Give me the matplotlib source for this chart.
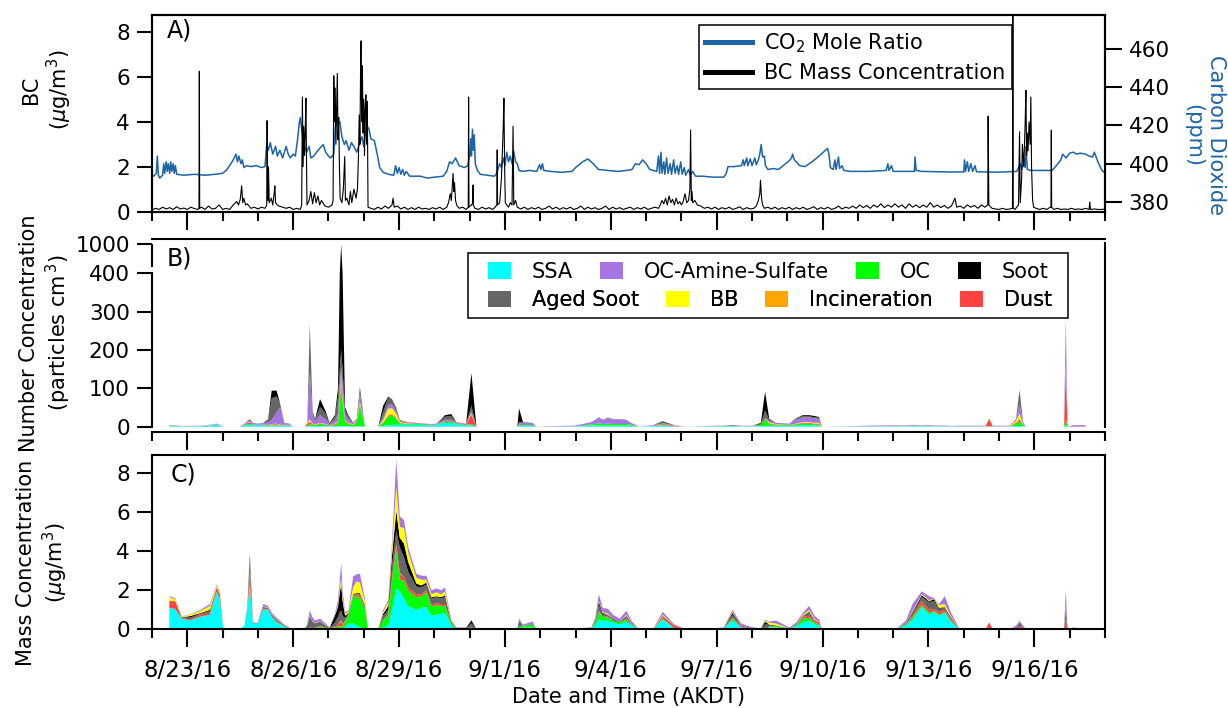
import numpy as np
import matplotlib
matplotlib.use("Agg")
import matplotlib.pyplot as plt
import matplotlib.dates as mdates
from matplotlib.patches import Patch, Rectangle
from matplotlib.lines import Line2D
from matplotlib.ticker import FuncFormatter
from datetime import datetime

plt.rcParams['font.family'] = 'DejaVu Sans'
plt.rcParams['font.size'] = 15

# ---------------- A) BC and CO2 (days since 8/22/16 00:00, value) ----------------
co2_points = [
    (0.00, 394), (0.05, 393.5), (0.12, 395), (0.15, 404), (0.18, 394), (0.22, 392.5), (0.30, 394),
    (0.33, 400), (0.36, 395), (0.40, 401), (0.43, 396), (0.46, 400), (0.50, 395), (0.53, 401),
    (0.56, 396), (0.60, 400), (0.63, 395), (0.66, 399), (0.70, 394.5), (0.90, 394), (1.20, 394.5),
    (1.50, 394), (1.80, 394.5), (2.00, 395), (2.10, 396.5), (2.20, 399), (2.30, 402), (2.38, 405),
    (2.42, 401), (2.46, 404), (2.52, 400), (2.56, 402), (2.60, 398), (2.68, 399), (2.80, 398.5),
    (2.95, 399), (3.10, 398), (3.20, 398.5), (3.25, 410), (3.30, 407), (3.35, 411), (3.42, 405),
    (3.50, 409), (3.55, 404), (3.62, 407), (3.70, 403), (3.80, 409), (3.86, 405), (3.92, 403),
    (4.00, 405), (4.06, 404), (4.12, 412), (4.17, 421), (4.20, 424), (4.24, 418), (4.30, 410),
    (4.38, 406), (4.45, 409), (4.50, 403), (4.58, 404), (4.66, 406), (4.75, 408), (4.85, 410),
    (4.92, 406), (5.00, 404), (5.06, 403), (5.15, 405), (5.22, 428), (5.26, 420), (5.32, 422),
    (5.38, 414), (5.45, 410), (5.50, 412), (5.58, 407), (5.65, 411), (5.72, 409), (5.80, 406),
    (5.87, 410), (5.95, 414), (6.00, 409), (6.08, 420), (6.15, 418), (6.20, 413), (6.30, 412),
    (6.38, 405), (6.45, 398), (6.55, 395.5), (6.70, 394.5), (6.85, 394), (6.90, 399), (6.95, 395),
    (7.00, 398), (7.05, 394.5), (7.10, 397), (7.15, 394), (7.20, 396), (7.30, 393.5), (7.60, 393.5),
    (7.80, 392.5), (8.00, 393), (8.25, 393.5), (8.35, 396), (8.43, 401), (8.50, 400), (8.60, 403),
    (8.70, 399), (8.85, 398), (8.95, 399), (9.00, 405), (9.03, 413), (9.05, 404), (9.08, 418),
    (9.10, 407), (9.13, 415), (9.16, 400), (9.22, 396.5), (9.30, 394.5), (9.50, 394), (9.70, 393.5),
    (9.75, 394.5), (9.80, 397), (9.85, 400), (9.90, 398), (9.95, 403), (10.00, 399), (10.05, 406),
    (10.10, 401), (10.15, 404), (10.20, 400), (10.25, 406.5), (10.30, 401), (10.35, 400),
    (10.40, 396.5), (10.50, 396), (10.70, 396.5), (10.90, 396), (10.98, 399.5), (11.02, 397),
    (11.06, 400), (11.10, 396.5), (11.30, 396), (11.60, 395.5), (11.90, 396), (12.00, 398),
    (12.20, 401), (12.35, 402.5), (12.50, 400), (12.65, 397), (12.90, 396.5), (13.20, 396),
    (13.45, 396.5), (13.60, 397), (13.70, 400), (13.80, 399.5), (13.90, 402), (14.00, 400),
    (14.10, 397), (14.30, 396), (14.35, 404), (14.38, 395), (14.42, 406), (14.45, 395), (14.50, 401),
    (14.53, 394.5), (14.58, 403), (14.62, 395), (14.68, 400), (14.72, 394.5), (14.78, 402),
    (14.82, 395), (14.88, 399), (14.92, 394.5), (14.98, 401), (15.02, 394.5), (15.08, 398),
    (15.12, 394), (15.20, 397), (15.25, 394), (15.32, 396), (15.40, 393.5), (15.60, 393.5),
    (15.90, 393), (16.20, 393), (16.27, 395), (16.32, 398.5), (16.50, 398.5), (16.70, 399),
    (16.75, 402), (16.78, 399), (16.85, 403), (16.88, 399), (16.95, 402.5), (17.00, 399),
    (17.08, 403), (17.12, 399.5), (17.18, 402), (17.22, 405), (17.26, 410), (17.30, 403.5),
    (17.35, 404), (17.38, 399), (17.45, 397), (17.60, 397.5), (17.75, 397), (17.85, 398.5),
    (17.95, 400), (18.05, 401.5), (18.12, 403), (18.15, 405), (18.20, 402), (18.35, 399),
    (18.50, 398.5), (18.70, 401), (18.90, 404), (19.05, 406.5), (19.14, 408), (19.18, 405),
    (19.22, 398), (19.30, 397), (19.35, 402), (19.38, 397), (19.45, 403.5), (19.48, 397.5),
    (19.55, 399), (19.60, 396.5), (19.80, 396), (20.30, 396), (20.80, 396.5), (20.85, 400),
    (20.88, 396.5), (20.95, 399), (21.00, 396), (21.60, 396), (21.62, 403.5), (21.65, 396.5),
    (21.80, 396), (22.60, 395.7), (23.00, 395.7), (23.02, 402), (23.05, 396), (23.10, 401),
    (23.14, 396), (23.20, 400), (23.25, 396), (23.32, 399), (23.36, 395.8), (24.00, 395.6),
    (24.50, 396), (24.60, 400), (24.64, 397), (24.70, 403), (24.74, 398), (24.76, 409),
    (24.80, 397), (24.90, 396.5), (25.50, 396.5), (25.60, 398.5), (25.75, 402), (25.80, 405),
    (25.90, 403), (26.00, 405.5), (26.10, 406), (26.20, 405), (26.30, 405.5), (26.45, 405),
    (26.55, 404), (26.65, 403.5), (26.70, 406), (26.80, 401), (26.90, 397), (27.00, 395),
]

bc_points = [
    (0.00, 0.08), (0.10, 0.15), (0.20, 0.10), (0.30, 0.20), (0.40, 0.12), (0.50, 0.18), (0.60, 0.10),
    (0.70, 0.22), (0.80, 0.12), (0.90, 0.16), (1.00, 0.10), (1.10, 0.20), (1.20, 0.14), (1.30, 0.10),
    (1.33, 0.15), (1.34, 6.25), (1.35, 0.15),
    (1.40, 0.20), (1.50, 0.10), (1.60, 0.25), (1.70, 0.12), (1.80, 0.15), (1.90, 0.30), (2.00, 0.10),
    (2.10, 0.15), (2.20, 0.10), (2.30, 0.30), (2.40, 0.45), (2.45, 0.30), (2.50, 0.55), (2.54, 1.15),
    (2.57, 0.40), (2.60, 0.60), (2.65, 0.30), (2.70, 0.35), (2.80, 0.15), (2.90, 0.20), (3.00, 0.12),
    (3.10, 0.20), (3.20, 0.15),
    (3.25, 0.30), (3.26, 4.05), (3.28, 0.50), (3.30, 2.00), (3.32, 0.40), (3.38, 0.60), (3.42, 0.30),
    (3.46, 0.80), (3.48, 1.15), (3.50, 0.40), (3.55, 0.30), (3.60, 0.25), (3.70, 0.20), (3.80, 0.15),
    (3.90, 0.20), (4.00, 0.10), (4.10, 0.15), (4.20, 0.10),
    (4.24, 0.30), (4.26, 5.10), (4.28, 2.00), (4.30, 3.80), (4.32, 2.50), (4.34, 3.50), (4.36, 5.05),
    (4.38, 2.00), (4.39, 0.30), (4.45, 0.50), (4.50, 0.90), (4.55, 0.35), (4.60, 0.85), (4.65, 0.40),
    (4.70, 0.70), (4.75, 0.30), (4.80, 0.50), (4.90, 0.25), (5.00, 0.20), (5.10, 0.30),
    (5.13, 0.50), (5.15, 6.05), (5.17, 4.00), (5.19, 5.50), (5.21, 3.00), (5.23, 4.60), (5.25, 6.15),
    (5.27, 3.20), (5.29, 4.20), (5.31, 2.00), (5.33, 0.60), (5.38, 0.40), (5.42, 1.00), (5.46, 2.45),
    (5.48, 0.50), (5.52, 0.60), (5.58, 0.30), (5.62, 0.90), (5.66, 0.40), (5.72, 1.00), (5.78, 0.60),
    (5.82, 1.00), (5.85, 2.50), (5.87, 4.30), (5.89, 3.00), (5.91, 6.50), (5.92, 7.60), (5.94, 4.00),
    (5.96, 6.50), (5.98, 3.50), (6.00, 5.00), (6.02, 2.50), (6.04, 4.60), (6.06, 5.20), (6.08, 3.00),
    (6.10, 4.90), (6.12, 0.20),
    (6.20, 0.15), (6.30, 0.10), (6.40, 0.20), (6.50, 0.12), (6.60, 0.25), (6.70, 0.15), (6.80, 0.30),
    (6.83, 0.60), (6.86, 0.20), (6.95, 0.25), (7.05, 0.12), (7.15, 0.20), (7.25, 0.10), (7.35, 0.18),
    (7.45, 0.10), (7.55, 0.20), (7.65, 0.12), (7.75, 0.15), (7.85, 0.10), (7.95, 0.18), (8.05, 0.12),
    (8.15, 0.20), (8.25, 0.10), (8.35, 0.20),
    (8.40, 0.40), (8.45, 0.80), (8.48, 0.50), (8.51, 1.20), (8.53, 1.70), (8.55, 0.90), (8.57, 1.30),
    (8.60, 0.50), (8.63, 0.30), (8.70, 0.15), (8.80, 0.20), (8.90, 0.10),
    (8.96, 0.20), (8.97, 5.10), (8.98, 0.20), (9.05, 0.30), (9.09, 0.40), (9.095, 1.19), (9.10, 0.30),
    (9.15, 0.15), (9.25, 0.10), (9.35, 0.20), (9.45, 0.12), (9.55, 0.18), (9.65, 0.10), (9.72, 0.20),
    (9.77, 0.30), (9.78, 2.75), (9.79, 0.30), (9.85, 0.40), (9.90, 1.50), (9.93, 2.80), (9.95, 3.70),
    (9.97, 5.05), (9.99, 2.00), (10.01, 0.40), (10.05, 0.30), (10.10, 0.20), (10.15, 0.40),
    (10.20, 0.30), (10.23, 3.80), (10.25, 0.30), (10.30, 0.50), (10.35, 0.20),
    (10.45, 0.12), (10.55, 0.20), (10.65, 0.10), (10.75, 0.18), (10.85, 0.12), (10.95, 0.20),
    (11.05, 0.10), (11.15, 0.15), (11.25, 0.25), (11.35, 0.12), (11.45, 0.20), (11.55, 0.10),
    (11.65, 0.18), (11.75, 0.12), (11.85, 0.20), (11.95, 0.10), (12.05, 0.15), (12.15, 0.25),
    (12.25, 0.10), (12.35, 0.20), (12.45, 0.12), (12.55, 0.18), (12.65, 0.10), (12.75, 0.15),
    (12.85, 0.25), (12.95, 0.10), (13.05, 0.20), (13.15, 0.12), (13.25, 0.18), (13.35, 0.10),
    (13.45, 0.15), (13.55, 0.20), (13.65, 0.10), (13.75, 0.18), (13.85, 0.12), (13.95, 0.20),
    (14.05, 0.10), (14.15, 0.15), (14.25, 0.20), (14.35, 0.15),
    (14.40, 0.30), (14.45, 0.50), (14.50, 0.35), (14.55, 0.60), (14.60, 0.30), (14.65, 0.70),
    (14.70, 0.40), (14.75, 0.55), (14.80, 0.30), (14.85, 0.60), (14.90, 0.35), (14.95, 0.45),
    (15.00, 0.30), (15.05, 0.45), (15.10, 0.80), (15.15, 0.40), (15.20, 0.50), (15.24, 1.00),
    (15.26, 3.63), (15.28, 0.50), (15.30, 0.90), (15.32, 0.40), (15.38, 0.50), (15.45, 0.30),
    (15.55, 0.25), (15.65, 0.15), (15.75, 0.20),
    (15.85, 0.12), (15.95, 0.20), (16.05, 0.10), (16.15, 0.18), (16.25, 0.12), (16.35, 0.20),
    (16.45, 0.10), (16.55, 0.15), (16.65, 0.22), (16.75, 0.10), (16.85, 0.18), (16.95, 0.12),
    (17.05, 0.15), (17.12, 0.25), (17.18, 0.50), (17.22, 0.80), (17.24, 1.40), (17.27, 0.60),
    (17.30, 0.30), (17.35, 0.15), (17.45, 0.20), (17.55, 0.12), (17.65, 0.20), (17.75, 0.10),
    (17.85, 0.18), (17.95, 0.12), (18.05, 0.20), (18.15, 0.10),
    (18.25, 0.18), (18.35, 0.12), (18.45, 0.20), (18.55, 0.10), (18.65, 0.15), (18.75, 0.22),
    (18.85, 0.10), (18.95, 0.18), (19.05, 0.12), (19.15, 0.20), (19.25, 0.10), (19.35, 0.15),
    (19.45, 0.25), (19.55, 0.12), (19.65, 0.20), (19.75, 0.15), (19.85, 0.25), (19.95, 0.15),
    (20.05, 0.30), (20.15, 0.18), (20.25, 0.28), (20.35, 0.15), (20.45, 0.30), (20.55, 0.20),
    (20.65, 0.35), (20.75, 0.18), (20.85, 0.30), (20.95, 0.20), (21.05, 0.35), (21.15, 0.20),
    (21.25, 0.30), (21.35, 0.15), (21.45, 0.35), (21.55, 0.20), (21.65, 0.30), (21.75, 0.18),
    (21.85, 0.30), (21.95, 0.20), (22.05, 0.40), (22.15, 0.20), (22.25, 0.30), (22.35, 0.18),
    (22.45, 0.28), (22.55, 0.15), (22.65, 0.25), (22.75, 0.60), (22.80, 0.20), (22.90, 0.25),
    (23.00, 0.15), (23.10, 0.30), (23.20, 0.20), (23.30, 0.28), (23.40, 0.15), (23.50, 0.30),
    (23.60, 0.20),
    (23.68, 0.30), (23.69, 4.25), (23.71, 0.30), (23.80, 0.15), (23.90, 0.12), (24.00, 0.10),
    (24.10, 0.15), (24.20, 0.10), (24.30, 0.12),
    (24.38, 0.15), (24.39, 10.0), (24.40, 0.15),
    (24.45, 0.10), (24.50, 0.20), (24.55, 0.30), (24.58, 3.55), (24.60, 0.40), (24.64, 1.50),
    (24.66, 3.00), (24.70, 2.00), (24.74, 4.00), (24.76, 5.40), (24.78, 2.50), (24.80, 3.50),
    (24.82, 2.70), (24.85, 4.00), (24.88, 3.00), (24.90, 5.10), (24.92, 2.00), (24.95, 0.50),
    (24.98, 0.20), (25.05, 0.15), (25.15, 0.10), (25.25, 0.15), (25.35, 0.10), (25.45, 0.20),
    (25.47, 0.20), (25.48, 3.63), (25.49, 0.20), (25.55, 0.10), (25.65, 0.15), (25.75, 0.10),
    (25.85, 0.12), (25.95, 0.10), (26.05, 0.15), (26.15, 0.10), (26.25, 0.12), (26.35, 0.10),
    (26.45, 0.15), (26.55, 0.10), (26.57, 0.43), (26.59, 0.10), (26.70, 0.12), (26.80, 0.10),
    (26.90, 0.10), (27.00, 0.12),
]

# ---------------- B) and C) single-particle classes ----------------
# sample times, days since 8/22/16 00:00 (one line per sampling period)
sample_day = [
    0.49, 0.66, 0.84, 1.08, 1.36, 1.64, 1.83, 1.92, 2.02,
    2.48, 2.62, 2.70, 2.77, 2.86, 2.99, 3.15, 3.29, 3.39, 3.53, 3.63, 3.75, 3.90, 3.98,
    4.33, 4.40, 4.47, 4.55, 4.62, 4.76, 4.92, 5.03, 5.18, 5.27, 5.32, 5.36, 5.40, 5.47, 5.56, 5.70, 5.80, 5.89, 6.03, 6.12,
    6.41, 6.55, 6.69, 6.80, 6.92, 7.02, 7.14, 7.26, 7.49, 7.63, 7.77, 7.92, 8.06, 8.20, 8.30, 8.48, 8.62, 8.90, 9.05, 9.19,
    10.35, 10.40, 10.51, 10.79, 10.89,
    11.17, 12.0, 12.45, 12.56, 12.66, 12.77, 12.92, 13.06, 13.25, 13.44, 13.58, 13.80, 14.19, 14.47, 14.80, 15.13,
    15.7, 16.2, 16.45, 16.69, 17.02, 17.25, 17.37, 17.49, 17.68, 18.06, 18.25, 18.44, 18.62, 18.77, 18.9, 18.98,
    19.57, 20.5, 21.08, 21.36, 21.55, 21.81, 22.02, 22.16, 22.30, 22.46, 22.63, 22.87, 23.3, 23.62, 23.72, 23.82, 24.3, 24.48, 24.58, 24.68, 24.76,
    25.84, 25.89, 25.94, 26.1, 26.45,
]

# number concentration, particles cm-3
num_ssa = [
    2, 2, 1, 1, 1.5, 3, 5, 3, 0,
    0, 3, 5, 5, 4, 4, 4, 3, 3, 3, 2, 3, 3, 0,
    0, 1, 3, 2, 2, 2, 2, 1, 2, 2, 2, 2, 2, 2, 2, 1, 1, 2, 0, 0,
    0, 2, 4, 5, 5, 5, 5, 5, 5, 5, 4, 4, 5, 8, 10, 10, 6, 4, 4, 0,
    0, 2, 2, 2, 0,
    0, 1, 3, 3, 4, 3, 4, 3, 3, 3, 2, 0, 2, 3, 1, 0,
    1, 1, 2, 1, 1, 2, 2, 3, 3, 2, 3, 4, 4, 3, 3, 0,
    0.5, 1, 1, 1, 1.5, 1, 1.5, 1, 1, 1, 1, 1, 1, 1, 1, 1, 1, 2, 2, 2, 0,
    0, 3, 0, 0, 0,
]
num_oc = [
    0.5, 0.3, 0.2, 0.2, 0.2, 0.3, 0.5, 0.3, 0,
    0, 1, 2, 2, 1, 1, 1, 1, 1, 2, 1, 1, 1, 0,
    0, 1, 5, 3, 2, 5, 3, 1, 3, 5, 60, 110, 60, 10, 5, 3, 10, 55, 0, 0,
    0, 8, 22, 25, 15, 4, 3, 2, 2, 2, 2, 1, 1, 2, 3, 3, 2, 1, 3, 0,
    0, 2, 2, 2, 0,
    0, 0, 3, 4, 5, 4, 4, 4, 4, 4, 3, 0, 0, 2, 0, 0,
    0, 1, 0, 0.5, 0.5, 3, 18, 4, 2, 2, 3, 4, 4, 3, 3, 0,
    0, 0, 0.5, 0.5, 0.5, 0.5, 0.5, 0.5, 0.5, 0.5, 0, 0, 0, 0, 0, 0, 0, 5, 13, 2, 0,
    0, 17, 0, 0, 0,
]
num_dust = [
    0.5, 0.3, 0.2, 0.2, 0.2, 0.3, 0.5, 0.5, 0,
    0, 1, 3, 4, 1, 1, 1, 2, 2, 2, 1, 1, 1, 0,
    0, 6, 5, 2, 1, 2, 1, 1, 2, 3, 10, 15, 8, 3, 2, 1, 2, 3, 0, 0,
    0, 2, 3, 3, 3, 2, 1, 1, 1, 1, 1, 1, 1, 1, 2, 2, 1, 2, 25, 0,
    0, 1, 0, 0, 0,
    0, 0, 0, 0, 0, 0, 0, 0, 0, 0, 0, 0, 0, 2, 2, 0,
    0, 0, 0, 0, 0, 0, 2, 2, 1, 1, 1, 2, 2, 2, 2, 0,
    0, 0, 0, 0, 0, 0, 0, 0, 0, 0, 0, 0.5, 0.5, 0.5, 20, 0.5, 0.5, 3, 5, 1, 0,
    0, 130, 0, 0, 0,
]
num_incin = [
    0, 0, 0, 0, 0, 0, 0, 0, 0,
    0, 0, 0, 0, 0, 0, 0, 0, 0, 0, 0, 0, 0, 0,
    0, 0, 1, 0, 0, 0, 0, 0, 0, 1, 2, 3, 2, 0, 0, 0, 0, 0, 0, 0,
    0, 0, 0, 0, 0, 0, 0, 0, 0, 0, 0, 0, 0, 0, 0, 0, 0, 0, 0, 0,
    0, 0, 0, 0, 0,
    0, 0, 0, 0, 0, 0, 0, 0, 0, 0, 0, 0, 0, 0, 0, 0,
    0, 0, 0, 0, 0, 0, 0, 0, 0, 0, 0, 0, 0, 0, 0, 0,
    0, 0, 0, 0, 0, 0, 0, 0, 0, 0, 0, 0, 0, 0, 0, 0, 0, 0, 0, 0, 0,
    0, 3, 0, 0, 0,
]
num_bb = [
    0.2, 0.1, 0, 0, 0, 0.2, 0.3, 0.2, 0,
    0, 0, 1, 1, 0, 0, 0, 0, 1, 1, 1, 0, 0, 0,
    0, 1, 5, 1, 1, 1, 1, 0, 1, 2, 5, 5, 5, 2, 1, 1, 1, 5, 0, 0,
    0, 5, 18, 15, 10, 2, 1, 1, 0, 0, 0, 0, 0, 0, 0, 0, 0, 0, 3, 0,
    0, 0, 0, 0, 0,
    0, 0, 0, 0, 0, 0, 0, 0, 0, 0, 0, 0, 0, 0, 0, 0,
    0, 0, 0, 0, 0, 0, 0, 2, 1, 0, 1, 2, 2, 2, 2, 0,
    0, 0, 0, 0, 0, 0, 0, 0, 0, 0, 0, 0, 0, 0, 2, 0, 0, 5, 14, 1, 0,
    0, 10, 0, 0, 0,
]
num_ocas = [
    1, 0.5, 0.5, 0.5, 0.6, 1, 1.5, 1, 0,
    0, 3, 3, 5, 3, 2, 3, 5, 10, 30, 45, 4, 2, 0,
    0, 1, 125, 20, 8, 20, 12, 3, 8, 20, 30, 20, 30, 15, 10, 2, 3, 20, 0, 0,
    0, 8, 10, 10, 8, 3, 2, 2, 1, 1, 1, 1, 1, 2, 3, 3, 2, 1, 5, 0,
    0, 3, 6, 6, 0,
    1, 2, 6, 10, 15, 10, 15, 12, 12, 10, 5, 0, 2, 2, 1, 0,
    1, 1, 1, 1, 1, 0, 0, 4, 3, 3, 10, 12, 12, 12, 10, 0,
    0.5, 1.5, 1.5, 1.5, 2, 1.5, 2, 1.5, 1.5, 1.5, 1, 1, 1, 1, 0, 1, 1, 5, 25, 5, 0,
    0, 120, 0, 4, 4,
]
num_aged = [
    0.2, 0, 0, 0.2, 0, 0.2, 0.2, 0, 0,
    0, 0, 1, 3, 1, 0, 1, 9, 57, 41, 10, 1, 1, 0,
    0, 0, 124, 10, 5, 22, 15, 3, 10, 45, 40, 45, 40, 12, 7, 2, 3, 20, 0, 0,
    0, 15, 18, 14, 9, 2, 2, 1, 1, 0, 0, 0, 0, 5, 8, 10, 1, 0, 15, 0,
    0, 5, 2, 0, 0,
    0, 0, 0, 1, 1, 1, 1, 1, 1, 1, 0, 0, 0, 3, 0, 0,
    0, 0, 0, 0, 0, 3, 20, 3, 0, 0, 3, 4, 3, 3, 3, 0,
    0, 0.5, 0.5, 0, 0, 0, 0, 0, 0, 0, 0, 0, 0, 0, 0, 0, 0, 0, 37, 1, 0,
    0, 0, 0, 0, 0,
]
num_soot = [
    0, 0, 0, 0, 0, 0, 0, 0, 0,
    0, 0, 0, 0, 0, 0, 0, 0, 20, 15, 0, 0, 0, 0,
    0, 0, 0, 2, 1, 20, 6, 1, 4, 22, 251, 800, 253, 6, 3, 0, 0, 0, 0, 0,
    0, 15, 3, 0, 0, 0, 0, 0, 0, 0, 0, 0, 0, 2, 4, 5, 0, 0, 85, 0,
    0, 35, 0, 0, 0,
    0, 0, 0, 0, 0, 0, 0, 0, 0, 0, 0, 0, 0, 2, 0, 0,
    0, 0, 1, 0, 0, 2, 49, 2, 0, 0, 1, 2, 3, 3, 2, 0,
    0, 0, 0, 0, 0, 0, 0, 0, 0, 0, 0, 0, 0, 0, 0, 0, 0, 0, 0, 0, 0,
    0, 0, 0, 0, 0,
]

# mass concentration, ug m-3
mass_ssa = [
    1.1, 1.05, 0.55, 0.45, 0.65, 0.75, 1.9, 1.55, 0,
    0, 0.2, 1.0, 2.2, 0.3, 0.3, 1.0, 1.0, 0.6, 0.35, 0.25, 0.15, 0.05, 0,
    0, 0, 0.02, 0.02, 0.02, 0.05, 0.02, 0.02, 0.05, 0.05, 0.05, 0.05, 0.05, 0.1, 0.3, 0.3, 0.2, 0.1, 0.05, 0,
    0, 0.1, 0.2, 1.0, 2.1, 1.95, 1.6, 1.2, 1.0, 1.1, 1.15, 0.7, 0.75, 0.8, 0.85, 0.2, 0, 0, 0, 0,
    0, 0.05, 0.1, 0.1, 0,
    0, 0, 0.05, 0.2, 0.5, 0.45, 0.45, 0.35, 0.25, 0.4, 0.2, 0, 0, 0.5, 0.05, 0,
    0, 0.05, 0.45, 0.1, 0, 0, 0, 0.1, 0.1, 0.05, 0.15, 0.35, 0.45, 0.25, 0.2, 0,
    0, 0, 0, 0.2, 0.5, 1.15, 0.75, 0.9, 0.7, 0.85, 0.4, 0, 0, 0, 0, 0, 0, 0, 0.05, 0, 0,
    0, 0.05, 0, 0, 0,
]
mass_oc = [
    0, 0, 0, 0, 0, 0, 0.03, 0.03, 0,
    0, 0, 0.05, 0.1, 0, 0, 0.02, 0.02, 0.02, 0.02, 0.02, 0, 0, 0,
    0, 0.02, 0.05, 0.03, 0.05, 0.1, 0.05, 0.02, 0.05, 0.1, 0.1, 0.1, 0.1, 0.3, 0.35, 1.4, 1.5, 1.5, 1.0, 0,
    0, 0.4, 0.5, 1.5, 1.95, 0.6, 0.9, 0.8, 0.65, 0.6, 0.75, 0.45, 0.5, 0.4, 0.35, 0.1, 0.05, 0.06, 0.1, 0,
    0, 0.1, 0.08, 0.15, 0,
    0, 0, 0, 0.15, 0.4, 0.2, 0.15, 0.1, 0.1, 0.1, 0.05, 0, 0, 0.05, 0, 0,
    0, 0, 0.1, 0, 0, 0, 0, 0.05, 0.05, 0, 0.05, 0.2, 0.15, 0.1, 0.05, 0,
    0, 0, 0, 0.05, 0.1, 0.1, 0.1, 0.05, 0.05, 0.05, 0.05, 0, 0, 0, 0, 0, 0, 0, 0, 0, 0,
    0, 0.05, 0, 0, 0,
]
mass_dust = [
    0.35, 0.4, 0.05, 0.05, 0.1, 0.1, 0.15, 0.2, 0,
    0, 0, 0.05, 0.6, 0.02, 0.02, 0.03, 0.03, 0.02, 0.02, 0.02, 0.01, 0, 0,
    0, 0, 0.02, 0.02, 0.02, 0.03, 0.02, 0, 0.05, 0.1, 0.2, 0.25, 0.1, 0.05, 0.05, 0.05, 0.1, 0.1, 0.05, 0,
    0, 0, 0.1, 0.2, 0.25, 0.3, 0.2, 0.15, 0.15, 0.1, 0.1, 0.1, 0.1, 0.1, 0.1, 0, 0, 0, 0, 0,
    0, 0, 0, 0, 0,
    0, 0, 0, 0, 0.05, 0, 0.05, 0, 0, 0.05, 0, 0, 0, 0.1, 0.15, 0,
    0, 0, 0.05, 0.05, 0, 0, 0, 0, 0, 0, 0, 0.1, 0.1, 0.1, 0.1, 0,
    0, 0, 0, 0, 0.1, 0.2, 0.15, 0.1, 0.15, 0.1, 0.1, 0.03, 0, 0, 0.35, 0, 0, 0.05, 0.1, 0.05, 0,
    0, 0.4, 0, 0, 0,
]
mass_incin = [
    0, 0, 0, 0, 0, 0, 0, 0, 0,
    0, 0, 0, 0.1, 0, 0, 0, 0, 0, 0, 0, 0, 0, 0,
    0, 0, 0, 0, 0, 0, 0, 0, 0, 0, 0.05, 0.05, 0.03, 0, 0, 0, 0, 0.02, 0, 0,
    0, 0, 0, 0, 0.05, 0.05, 0, 0, 0, 0, 0, 0, 0, 0, 0, 0, 0, 0, 0, 0,
    0, 0, 0, 0, 0,
    0, 0, 0, 0, 0, 0, 0, 0, 0, 0, 0, 0, 0, 0, 0, 0,
    0, 0, 0, 0, 0, 0, 0, 0, 0, 0, 0, 0, 0, 0, 0, 0,
    0, 0, 0, 0, 0, 0, 0, 0, 0, 0, 0, 0, 0, 0, 0, 0, 0, 0, 0, 0, 0,
    0, 0, 0, 0, 0,
]
mass_aged = [
    0, 0, 0.02, 0.1, 0.05, 0.1, 0.05, 0.05, 0,
    0, 0, 0.05, 0.6, 0.02, 0, 0.08, 0.04, 0.06, 0.05, 0.05, 0.03, 0.02, 0,
    0, 0.15, 0.55, 0.3, 0.2, 0.2, 0.1, 0.03, 0.2, 0.4, 0.5, 0.5, 0.4, 0.15, 0.1, 0.05, 0.05, 0.08, 0.1, 0,
    0, 0.2, 0.2, 0.6, 0.7, 1.3, 1.0, 0.8, 0.4, 0.35, 0.3, 0.35, 0.3, 0.3, 0.35, 0.1, 0.02, 0.02, 0.2, 0,
    0, 0.3, 0, 0.05, 0,
    0, 0, 0, 0.1, 0.3, 0.15, 0.1, 0.1, 0.05, 0.15, 0.05, 0, 0, 0.05, 0, 0,
    0, 0, 0.15, 0.05, 0.05, 0, 0.25, 0.1, 0.05, 0, 0.05, 0.05, 0.15, 0.05, 0, 0,
    0, 0, 0, 0.05, 0.15, 0.2, 0.4, 0.4, 0.15, 0.15, 0.1, 0, 0, 0, 0, 0, 0, 0.05, 0.15, 0.05, 0,
    0, 0.5, 0, 0, 0,
]
mass_soot = [
    0, 0, 0, 0.08, 0.03, 0.05, 0.02, 0.02, 0,
    0, 0, 0, 0.2, 0, 0, 0.02, 0.01, 0.03, 0.03, 0.02, 0.01, 0, 0,
    0, 0.05, 0.05, 0.03, 0.02, 0.02, 0.02, 0, 0.35, 0.5, 1.0, 1.35, 0.8, 0.1, 0.03, 0.02, 0.02, 0.05, 0.05, 0,
    0, 0.1, 0.2, 0.5, 1.05, 0.5, 0.7, 0.5, 0.15, 0.1, 0.1, 0.05, 0.05, 0.05, 0.1, 0, 0, 0, 0.15, 0,
    0, 0, 0, 0, 0,
    0, 0, 0, 0, 0.15, 0.05, 0, 0, 0, 0, 0, 0, 0, 0, 0, 0,
    0, 0, 0.1, 0, 0, 0, 0.15, 0, 0, 0, 0, 0, 0.05, 0, 0, 0,
    0, 0, 0, 0, 0.05, 0.1, 0.05, 0.1, 0.05, 0, 0, 0, 0, 0, 0, 0, 0, 0, 0.05, 0, 0,
    0, 0.1, 0, 0, 0,
]
mass_bb = [
    0.2, 0.1, 0.02, 0.08, 0.1, 0.2, 0.08, 0.1, 0,
    0, 0, 0.02, 0.1, 0.01, 0, 0.03, 0.02, 0.02, 0.02, 0.02, 0.01, 0, 0,
    0, 0.02, 0.03, 0.03, 0.02, 0.02, 0.02, 0.01, 0.05, 0.1, 0.2, 0.3, 0.2, 0.1, 0.07, 0.35, 0.6, 0.55, 0.2, 0,
    0, 0.1, 0.2, 0.4, 1.2, 0.55, 0.8, 0.5, 0.3, 0.3, 0.15, 0.15, 0.2, 0.15, 0.2, 0.05, 0, 0, 0, 0,
    0, 0, 0, 0, 0,
    0, 0, 0, 0, 0.05, 0.05, 0.05, 0, 0, 0.05, 0, 0, 0, 0.05, 0, 0,
    0, 0, 0.05, 0, 0, 0, 0.05, 0.1, 0.1, 0, 0, 0.05, 0.1, 0.05, 0, 0,
    0, 0.03, 0, 0, 0.05, 0.05, 0.05, 0.02, 0.15, 0.15, 0.05, 0, 0, 0, 0, 0, 0, 0, 0.05, 0, 0,
    0, 0.1, 0, 0, 0,
]
mass_ocas = [
    0.05, 0.05, 0.02, 0.02, 0.05, 0.1, 0.05, 0.05, 0,
    0, 0, 0.03, 0.1, 0.02, 0.02, 0.12, 0.08, 0.1, 0.1, 0.06, 0.04, 0.02, 0,
    0, 0.06, 0.25, 0.17, 0.12, 0.13, 0.07, 0.02, 0.05, 0.25, 0.4, 0.8, 0.32, 0.1, 0.05, 0.55, 0.35, 0.45, 0.15, 0,
    0, 0.1, 0.1, 0.3, 1.4, 0.55, 0.4, 0.25, 0.2, 0.2, 0.2, 0.2, 0.2, 0.2, 0.2, 0.05, 0.03, 0.02, 0.05, 0,
    0, 0.1, 0.07, 0.1, 0,
    0, 0.05, 0.05, 0.15, 0.35, 0.2, 0.25, 0.2, 0.15, 0.2, 0.15, 0, 0, 0.15, 0.05, 0,
    0, 0.05, 0.1, 0.1, 0.05, 0.05, 0.05, 0.05, 0.15, 0.05, 0.1, 0.1, 0.2, 0.15, 0.15, 0,
    0, 0, 0, 0.15, 0.35, 0.15, 0.2, 0.03, 0.05, 0.4, 0.2, 0.02, 0, 0, 0, 0, 0, 0.1, 0.05, 0.1, 0,
    0, 0.8, 0, 0.1, 0,
]

colors = {
    'SSA': '#00ffff', 'OC-Amine-Sulfate': '#a775e2', 'OC': '#00ff00', 'Soot': '#000000',
    'Aged Soot': '#666666', 'BB': '#ffff00', 'Incineration': '#ffa500', 'Dust': '#ff4242',
}
co2_blue = '#1d65a6'

t0 = mdates.date2num(datetime(2016, 8, 22))
co2_day, co2_ppm = np.array(co2_points).T
bc_day, bc_conc = np.array(bc_points).T
x_samp = t0 + np.array(sample_day)


def stack(ax, x, layers):
    base = np.zeros(len(x))
    for name, vals in layers:
        top = base + np.array(vals, float)
        ax.fill_between(x, base, top, facecolor=colors[name], edgecolor='none', linewidth=0)
        base = top


def date_label(v, pos):
    d = mdates.num2date(v)
    return f"{d.month}/{d.day}/{d:%y}"


def style_axis(ax, show_labels):
    ax.set_xlim(t0, t0 + 27)
    ax.xaxis.set_major_locator(mdates.DayLocator(bymonthday=[1, 4, 7, 10, 13, 16, 23, 26, 29]))
    ax.xaxis.set_minor_locator(mdates.DayLocator())
    ax.xaxis.set_major_formatter(FuncFormatter(date_label))
    ax.tick_params(axis='x', which='major', direction='out', length=13, width=1.5, pad=8,
                   labelbottom=show_labels, labelsize=16.5)
    ax.tick_params(axis='x', which='minor', direction='out', length=6.5, width=1.5)
    ax.tick_params(axis='y', direction='out', length=11, width=1.5, pad=5, labelsize=15.5)
    for s in ax.spines.values():
        s.set_linewidth(1.5)


fig = plt.figure(figsize=(12.28, 7.08), dpi=100)
axA = fig.add_axes([0.1238, 0.701, 0.776, 0.2778])
axB = fig.add_axes([0.1238, 0.3903, 0.776, 0.2717])
axC = fig.add_axes([0.1238, 0.1111, 0.776, 0.2462])

# ---- A ----
axA2 = axA.twinx()
axA2.plot(t0 + co2_day, co2_ppm, color=co2_blue, lw=1.1)
axA.plot(t0 + bc_day, bc_conc, color='black', lw=0.8)
axA.set_zorder(axA2.get_zorder() + 1)
axA.patch.set_visible(False)
axA.set_ylim(0, 8.75)
axA.set_yticks([0, 2, 4, 6, 8])
axA2.set_ylim(375, 477.5)
axA2.set_yticks([380, 400, 420, 440, 460])
style_axis(axA, False)
axA2.tick_params(axis='y', direction='out', length=12, width=1.5, pad=5, labelsize=15.5)
for s in axA2.spines.values():
    s.set_linewidth(1.5)
axA.text(0.016, 0.98, 'A)', transform=axA.transAxes, ha='left', va='top', fontsize=17)
legA = axA.legend(handles=[Line2D([], [], color=co2_blue, lw=3.6),
                           Line2D([], [], color='black', lw=3.6)],
                  labels=['CO$_2$ Mole Ratio', 'BC Mass Concentration'],
                  loc='upper right', bbox_to_anchor=(0.9024, 0.949), borderaxespad=0,
                  fancybox=False, framealpha=1, edgecolor='black', fontsize=15,
                  handlelength=2.26, handletextpad=0.58, borderpad=0.3, labelspacing=0.38)
legA.get_frame().set_linewidth(1.1)

# ---- B (broken y axis above 400) ----
k_top = 0.126


def fwd(y):
    y = np.asarray(y, float)
    return np.where(y <= 400, y, 400 + (y - 400) * k_top)


def inv(t):
    t = np.asarray(t, float)
    return np.where(t <= 400, t, 400 + (t - 400) / k_top)


axB.set_yscale('function', functions=(fwd, inv))
stack(axB, x_samp, [('SSA', num_ssa), ('OC', num_oc), ('Dust', num_dust),
                    ('Incineration', num_incin), ('BB', num_bb), ('OC-Amine-Sulfate', num_ocas),
                    ('Aged Soot', num_aged), ('Soot', num_soot)])
axB.set_ylim(-13, 1106)
axB.set_yticks([0, 100, 200, 300, 400, 1000])
style_axis(axB, False)
axB.spines['left'].set_bounds(0, 400)
axB.spines['right'].set_bounds(0, 1030)
axB.plot([0, 0], [535, 1000], transform=axB.get_yaxis_transform(), color='black', lw=1.5,
         clip_on=False, solid_capstyle='butt')
axB.text(0.015, 0.965, 'B)', transform=axB.transAxes, ha='left', va='top', fontsize=17)

row1 = ['SSA', 'OC-Amine-Sulfate', 'OC', 'Soot']
row2 = ['Aged Soot', 'BB', 'Incineration', 'Dust']
frame = Rectangle((0.3811, 0.5508), 0.4886, 0.0918, transform=fig.transFigure,
                  facecolor='white', edgecolor='black', lw=1.1, zorder=4)
axB.add_artist(frame)
for names, yc in ((row1, 0.6162), (row2, 0.5763)):
    leg = axB.legend(handles=[Patch(facecolor=colors[n], edgecolor='none') for n in names],
                     labels=names, ncol=4, loc='center left', bbox_to_anchor=(0.3974, yc),
                     bbox_transform=fig.transFigure, frameon=False, borderpad=0, borderaxespad=0,
                     handlelength=1.1, handleheight=0.82, handletextpad=1.0, columnspacing=1.3,
                     fontsize=15)
    leg.set_zorder(5)
    axB.add_artist(leg)

# ---- C ----
stack(axC, x_samp, [('SSA', mass_ssa), ('OC', mass_oc), ('Dust', mass_dust),
                    ('Incineration', mass_incin), ('Aged Soot', mass_aged), ('Soot', mass_soot),
                    ('BB', mass_bb), ('OC-Amine-Sulfate', mass_ocas)])
axC.set_ylim(0, 8.94)
axC.set_yticks([0, 2, 4, 6, 8])
style_axis(axC, True)
axC.text(0.019, 0.96, 'C)', transform=axC.transAxes, ha='left', va='top', fontsize=17)

# ---- axis titles ----
fig.text(0.0387, 0.873, 'BC\n($\\mu$g/m$^3$)', rotation=90, ha='center', va='center',
         multialignment='center', fontsize=15)
fig.text(0.981, 0.809, 'Carbon Dioxide\n(ppm)', rotation=270, ha='center', va='center',
         multialignment='center', fontsize=15, color=co2_blue)
fig.text(0.0375, 0.53, 'Number Concentration\n(particles cm$^{\\,3}$)', rotation=90,
         ha='center', va='center', multialignment='center', fontsize=15)
fig.text(0.035, 0.205, 'Mass Concentration\n($\\mu$g/m$^3$)', rotation=90, ha='center',
         va='center', multialignment='center', fontsize=15)
fig.text(0.5118, 0.0155, 'Date and Time (AKDT)', ha='center', va='center', fontsize=15)

fig.savefig('out.png', dpi=100)
